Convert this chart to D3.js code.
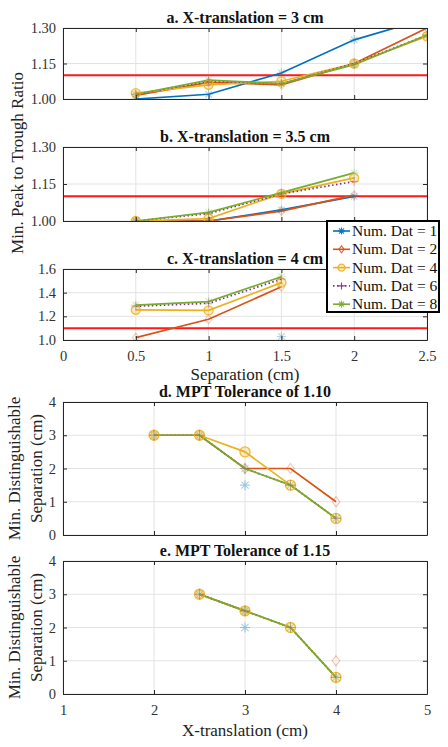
<!DOCTYPE html>
<html>
<head>
<meta charset="utf-8">
<script src="https://cdn.jsdelivr.net/npm/d3@7"></script>
<style>
  html, body { margin: 0; padding: 0; background: #fff; }
  svg { display: block; }
  svg text { font-family: "Liberation Serif", "Times New Roman", Times, "DejaVu Serif", serif !important; }
</style>
</head>
<body>
<svg id="chart" width="448" height="747"></svg>
<script>
// ---------------- DATA ----------------
const seriesNames = ["Num. Dat = 1", "Num. Dat = 2", "Num. Dat = 4", "Num. Dat = 6", "Num. Dat = 8"];
const seriesColors = ["#0072BD", "#D95319", "#EDB120", "#7E2F8E", "#77AC30"];
const seriesMarkers = ["asterisk", "diamond", "circle", "plus", "asterisk"];
const seriesDash = [null, null, null, "1.5,2.5", null];

const separation = [0.5, 1, 1.5, 2, 2.5];
const sepTicks = [0, 0.5, 1, 1.5, 2, 2.5];

// a. X-translation = 3 cm  (rows: Num. Dat = 1,2,4,6,8)
const ratioA = [
  [1.00, 1.02, 1.11, 1.25, 1.34],
  [1.015, 1.07, 1.06, 1.15, 1.30],
  [1.025, 1.06, 1.075, 1.15, 1.265],
  [1.02, 1.075, 1.065, 1.15, 1.27],
  [1.02, 1.08, 1.065, 1.145, 1.27]
];
// b. X-translation = 3.5 cm
const ratioB = [
  [1.00, 1.00, 1.045, 1.10, null],
  [1.00, 1.00, 1.04, 1.105, null],
  [1.00, 1.01, 1.11, 1.175, null],
  [1.00, 1.03, 1.11, 1.16, null],
  [1.00, 1.035, 1.115, 1.195, null]
];
// c. X-translation = 4 cm
const ratioC = [
  [null, null, 1.03, null, null],
  [1.02, 1.175, 1.45, null, null],
  [1.255, 1.25, 1.485, null, null],
  [1.285, 1.31, 1.515, null, null],
  [1.295, 1.325, 1.535, null, null]
];
const ticksAB = [1.00, 1.15, 1.30];
const ticksC = [1.0, 1.2, 1.4, 1.6];
const mptTolerances = [1.10, 1.15];

const xTranslation = [2, 2.5, 3, 3.5, 4];
const xtTicks = [1, 2, 3, 4, 5];
const sepTicksY = [0, 1, 2, 3, 4];
// d. MPT tolerance of 1.10
const minSepD = [
  [null, null, 1.5, null, null],
  [3, 3, 2, 2, 1],
  [3, 3, 2.5, 1.5, 0.5],
  [3, 3, 2, 1.5, 0.5],
  [3, 3, 2, 1.5, 0.5]
];
// e. MPT tolerance of 1.15
const minSepE = [
  [null, null, 2, null, null],
  [null, 3, 2.5, null, 1],
  [null, 3, 2.5, 2, 0.5],
  [null, 3, 2.5, 2, 0.5],
  [null, 3, 2.5, 2, 0.5]
];

// ---------------- DRAW ----------------
const FONT = '"Liberation Serif", "Times New Roman", Times, "DejaVu Serif", serif';
const svg = d3.select("#chart").attr("font-family", FONT);
const axisColor = "#262626";
const gridColor = "#e3e3e3";
const L = 63, R = 427;

function markerPath(type, s) {
  if (type === "circle") return null;
  if (type === "diamond") return `M0,${-s}L${s*0.75},0L0,${s}L${-s*0.75},0Z`;
  if (type === "plus") return `M${-s},0H${s}M0,${-s}V${s}`;
  const d = s * 0.72;
  return `M${-s},0H${s}M0,${-s}V${s}M${-d},${-d}L${d},${d}M${-d},${d}L${d},${-d}`;
}

function drawMarker(g, type, color, x, y, size, opacity) {
  if (type === "circle") {
    g.append("circle").attr("cx", x).attr("cy", y).attr("r", size)
      .attr("fill", color).attr("fill-opacity", 0.25)
      .attr("stroke", color).attr("stroke-width", 1.4).attr("stroke-opacity", opacity);
  } else {
    g.append("path").attr("d", markerPath(type, size))
      .attr("transform", `translate(${x},${y})`)
      .attr("fill", "none").attr("stroke", color).attr("stroke-width", 1.1)
      .attr("stroke-opacity", opacity);
  }
}

let clipId = 0;
function panel(opts) {
  const { x, y, xTicks, yTicks, yFmt, title, data, xs, showXLabels, redLine, top, bottom, markerSize, markerOpacity } = opts;
  const g = svg.append("g");
  g.selectAll(".gx").data(xTicks).enter().append("line")
    .attr("x1", d => x(d)).attr("x2", d => x(d)).attr("y1", top).attr("y2", bottom)
    .attr("stroke", gridColor).attr("stroke-width", 1);
  g.selectAll(".gy").data(yTicks).enter().append("line")
    .attr("x1", L).attr("x2", R).attr("y1", d => y(d)).attr("y2", d => y(d))
    .attr("stroke", gridColor).attr("stroke-width", 1);

  const cid = "clip" + (clipId++);
  g.append("clipPath").attr("id", cid).append("rect")
    .attr("x", L).attr("y", top).attr("width", R - L).attr("height", bottom - top);
  const plot = g.append("g").attr("clip-path", `url(#${cid})`);

  if (redLine !== undefined) {
    plot.append("line").attr("x1", L).attr("x2", R).attr("y1", y(redLine)).attr("y2", y(redLine))
      .attr("stroke", "#ff1a1a").attr("stroke-width", 2);
  }

  const line = d3.line().defined(d => d[1] !== null).x(d => x(d[0])).y(d => y(d[1]));
  data.forEach((vals, i) => {
    const pts = xs.map((xv, j) => [xv, vals[j]]);
    plot.append("path").datum(pts).attr("d", line)
      .attr("fill", "none").attr("stroke", seriesColors[i]).attr("stroke-width", 1.7)
      .attr("stroke-dasharray", seriesDash[i]);
  });
  data.forEach((vals, i) => {
    xs.forEach((xv, j) => {
      if (vals[j] === null) return;
      const op = seriesMarkers[i] === "circle" ? 0.85 : markerOpacity;
      drawMarker(plot, seriesMarkers[i], seriesColors[i], x(xv), y(vals[j]), markerSize, op);
    });
  });

  const ax = g.append("g");
  const bAxis = d3.axisBottom(x).tickValues(xTicks).tickSizeInner(-4).tickSizeOuter(0)
    .tickFormat(showXLabels ? d3.format("") : () => "");
  const tAxis = d3.axisTop(x).tickValues(xTicks).tickSizeInner(-4).tickSizeOuter(0).tickFormat(() => "");
  const lAxis = d3.axisLeft(y).tickValues(yTicks).tickSizeInner(-4).tickSizeOuter(0).tickFormat(yFmt).tickPadding(7);
  const rAxis = d3.axisRight(y).tickValues(yTicks).tickSizeInner(-4).tickSizeOuter(0).tickFormat(() => "");
  const axes = [
    ax.append("g").attr("transform", `translate(0,${bottom})`).call(bAxis),
    ax.append("g").attr("transform", `translate(0,${top})`).call(tAxis),
    ax.append("g").attr("transform", `translate(${L},0)`).call(lAxis),
    ax.append("g").attr("transform", `translate(${R},0)`).call(rAxis)
  ];
  axes.forEach(a => {
    a.attr("font-family", FONT).attr("font-size", 14);
    a.select(".domain").attr("stroke", axisColor).attr("stroke-width", 1);
    a.selectAll(".tick line").attr("stroke", axisColor);
    a.selectAll(".tick text").attr("fill", "#333").attr("font-family", FONT).attr("font-size", 14.5);
  });
  axes[0].selectAll(".tick text").attr("dy", "1.05em").attr("y", 6);

  g.append("text").attr("x", (L + R) / 2).attr("y", top - 5).attr("text-anchor", "middle")
    .attr("font-family", FONT).attr("font-size", 16).attr("font-weight", "bold").attr("fill", "#111").text(title);
  return g;
}

const xSep = d3.scaleLinear().domain([0, 2.5]).range([L, R]);
const xXt = d3.scaleLinear().domain([1, 5]).range([L, R]);

panel({ x: xSep, y: d3.scaleLinear().domain([1, 1.3]).range([99, 28]), top: 28, bottom: 99,
  xTicks: sepTicks, yTicks: ticksAB, yFmt: d3.format(".2f"), title: "a. X-translation = 3 cm",
  data: ratioA, xs: separation, showXLabels: false, redLine: mptTolerances[0], markerSize: 4.5, markerOpacity: 0.3 });
panel({ x: xSep, y: d3.scaleLinear().domain([1, 1.3]).range([221, 147]), top: 147, bottom: 221,
  xTicks: sepTicks, yTicks: ticksAB, yFmt: d3.format(".2f"), title: "b. X-translation = 3.5 cm",
  data: ratioB, xs: separation, showXLabels: false, redLine: mptTolerances[0], markerSize: 4.5, markerOpacity: 0.3 });
panel({ x: xSep, y: d3.scaleLinear().domain([1, 1.6]).range([340, 269]), top: 269, bottom: 340,
  xTicks: sepTicks, yTicks: ticksC, yFmt: d3.format(".1f"), title: "c. X-translation = 4 cm",
  data: ratioC, xs: separation, showXLabels: true, redLine: mptTolerances[0], markerSize: 4.5, markerOpacity: 0.3 });
panel({ x: xXt, y: d3.scaleLinear().domain([0, 4]).range([535, 402]), top: 402, bottom: 535,
  xTicks: xtTicks, yTicks: sepTicksY, yFmt: d3.format("d"), title: "d. MPT Tolerance of 1.10",
  data: minSepD, xs: xTranslation, showXLabels: false, markerSize: 5, markerOpacity: 0.35 });
panel({ x: xXt, y: d3.scaleLinear().domain([0, 4]).range([694, 561]), top: 561, bottom: 694,
  xTicks: xtTicks, yTicks: sepTicksY, yFmt: d3.format("d"), title: "e. MPT Tolerance of 1.15",
  data: minSepE, xs: xTranslation, showXLabels: true, markerSize: 5, markerOpacity: 0.35 });

const lab = svg.append("g").attr("fill", "#222").attr("font-family", FONT).attr("font-size", 17);
lab.append("text").attr("transform", "translate(23,163) rotate(-90)").attr("text-anchor", "middle")
  .text("Min. Peak to Trough Ratio");
lab.append("text").attr("x", 245).attr("y", 380).attr("text-anchor", "middle").text("Separation (cm)");
lab.append("text").attr("x", 245).attr("y", 736).attr("text-anchor", "middle").text("X-translation (cm)");
[468.5, 627.5].forEach(cy => {
  lab.append("text").attr("transform", `translate(20,${cy}) rotate(-90)`).attr("text-anchor", "middle")
    .text("Min. Distinguishable");
  lab.append("text").attr("transform", `translate(42,${cy}) rotate(-90)`).attr("text-anchor", "middle")
    .text("Separation (cm)");
});

const lg = svg.append("g").attr("font-family", FONT);
lg.append("rect").attr("x", 327).attr("y", 221).attr("width", 112).attr("height", 91)
  .attr("fill", "#fff").attr("stroke", "#000").attr("stroke-width", 2);
seriesNames.forEach((name, i) => {
  const cy = 231 + i * 18.3;
  lg.append("line").attr("x1", 333).attr("x2", 350).attr("y1", cy).attr("y2", cy)
    .attr("stroke", seriesColors[i]).attr("stroke-width", 1.6).attr("stroke-dasharray", seriesDash[i]);
  drawMarker(lg, seriesMarkers[i], seriesColors[i], 341.5, cy, 3.5, 0.9);
  lg.append("text").attr("x", 352).attr("y", cy + 5).attr("font-size", 15.5).attr("fill", "#111").text(name);
});
</script>
</body>
</html>
